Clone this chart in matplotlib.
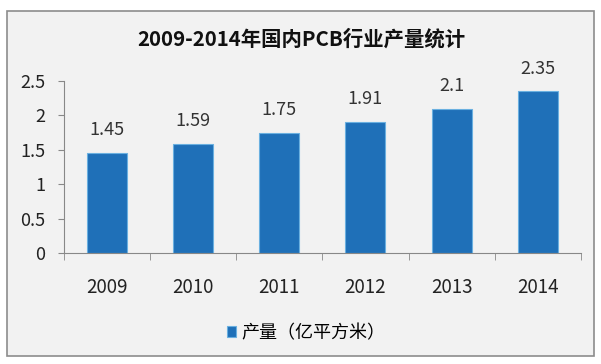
import matplotlib
matplotlib.use("Agg")
import matplotlib.pyplot as plt
from matplotlib.patches import Rectangle

plt.rcParams['font.family'] = ['Noto Sans CJK SC', 'DejaVu Sans']

years = ["2009", "2010", "2011", "2012", "2013", "2014"]
output = [1.45, 1.59, 1.75, 1.91, 2.1, 2.35]
yticks = [0, 0.5, 1, 1.5, 2, 2.5]
ytick_labels = ["0", "0.5", "1", "1.5", "2", "2.5"]
title = "2009-2014年国内PCB行业产量统计"
legend_label = "产量（亿平方米）"

W, H = 601, 364
fig = plt.figure(figsize=(W/100, H/100), dpi=100)
fig.patch.set_facecolor("white")
# chart area background with border
fig.patches.append(Rectangle((7/W, 1-356/H), (594-7)/W, (356-11)/H,
                             transform=fig.transFigure, facecolor="#f2f2f2",
                             edgecolor="#8c8c8c", linewidth=1.2, zorder=-5))

ax = fig.add_axes([63.5/W, 1-253/H, (581-63.5)/W, (253-81)/H])
ax.set_facecolor("none")
x = range(len(years))
bars = ax.bar(x, output, width=0.465, color="#1f70b8", edgecolor="#6ab0e0",
              linewidth=0.8, label=legend_label)
for xi, v in zip(x, output):
    ax.text(xi, v + 0.2, f"{v:g}", ha="center", va="bottom", fontsize=13,
            color="#333333")

ax.set_xlim(-0.5, len(years) - 0.5)
ax.set_ylim(0, 2.5)
ax.set_yticks(yticks)
ax.set_yticklabels(ytick_labels, fontsize=13, color="#222222")
ax.set_xticks(list(x))
ax.set_xticklabels(years, fontsize=13.5, color="#222222")
ax.tick_params(axis="x", length=0, pad=17)
ax.tick_params(axis="y", length=4, color="#888888", pad=9)
ax.set_xticks([i + 0.5 for i in range(-1, len(years))], minor=True)
ax.tick_params(axis="x", which="minor", length=5, color="#888888")
for s in ["top", "right"]:
    ax.spines[s].set_visible(False)
ax.spines["left"].set_color("#888888")
ax.spines["bottom"].set_color("#888888")

fig.text(301/W, 1-39/H, title, ha="center", va="center", fontsize=14.7,
         fontweight="bold", color="#111111")

fig.legend(handles=[bars], labels=[legend_label], loc="center",
           bbox_to_anchor=(306/W, 1-333/H), frameon=False, fontsize=13,
           handlelength=0.5, handleheight=0.5, handletextpad=0.3)

fig.savefig("out.png", dpi=100)
